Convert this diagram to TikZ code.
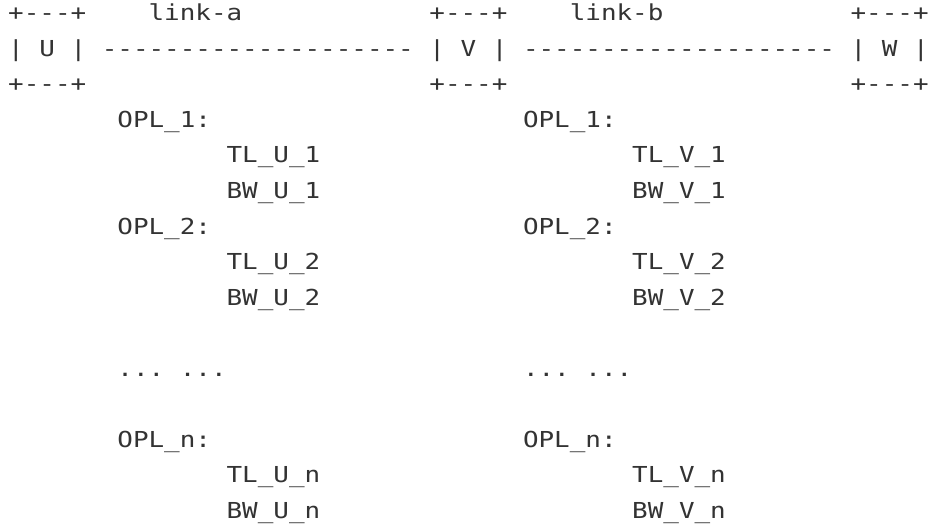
\documentclass[tikz,border=0pt]{standalone}
\usepackage{fontspec}
\setmonofont{DejaVu Sans Mono}
\usepackage{graphicx}
\definecolor{ink}{HTML}{333333}
\tikzset{txt/.style={anchor=base west, inner sep=0pt, outer sep=0pt, text=ink,
  font=\ttfamily\fontsize{22}{22}\selectfont}}
\newcommand\tk[4]{\node[txt] (#1) at ({8.2pt+#2*15.6pt},{502pt-(#3-1)*35.5pt}) {\scalebox{1.178}[1]{#4}};}
\begin{document}
\begin{tikzpicture}
\useasboundingbox (0,0) rectangle (929pt,523pt);
% row 1
\tk{ua}{0}{1}{+---+}
\tk{la}{9}{1}{link-a}
\tk{va}{27}{1}{+---+}
\tk{lb}{36}{1}{link-b}
\tk{wa}{54}{1}{+---+}
% row 2
\tk{ul}{0}{2}{|}
\tk{u}{2}{2}{U}
\tk{ur}{4}{2}{|}
\tk{da}{6}{2}{--------------------}
\tk{vl}{27}{2}{|}
\tk{v}{29}{2}{V}
\tk{vr}{31}{2}{|}
\tk{db}{33}{2}{--------------------}
\tk{wl}{54}{2}{|}
\tk{w}{56}{2}{W}
\tk{wr}{58}{2}{|}
% row 3
\tk{ub}{0}{3}{+---+}
\tk{vb}{27}{3}{+---+}
\tk{wb}{54}{3}{+---+}
% left column
\tk{ou1}{7}{4}{OPL\_1:}
\tk{tu1}{14}{5}{TL\_U\_1}
\tk{bu1}{14}{6}{BW\_U\_1}
\tk{ou2}{7}{7}{OPL\_2:}
\tk{tu2}{14}{8}{TL\_U\_2}
\tk{bu2}{14}{9}{BW\_U\_2}
\tk{eu1}{7}{11}{...}
\tk{eu2}{11}{11}{...}
\tk{oun}{7}{13}{OPL\_n:}
\tk{tun}{14}{14}{TL\_U\_n}
\tk{bun}{14}{15}{BW\_U\_n}
% right column
\tk{ov1}{33}{4}{OPL\_1:}
\tk{tv1}{40}{5}{TL\_V\_1}
\tk{bv1}{40}{6}{BW\_V\_1}
\tk{ov2}{33}{7}{OPL\_2:}
\tk{tv2}{40}{8}{TL\_V\_2}
\tk{bv2}{40}{9}{BW\_V\_2}
\tk{ev1}{33}{11}{...}
\tk{ev2}{37}{11}{...}
\tk{ovn}{33}{13}{OPL\_n:}
\tk{tvn}{40}{14}{TL\_V\_n}
\tk{bvn}{40}{15}{BW\_V\_n}
\end{tikzpicture}
\end{document}
